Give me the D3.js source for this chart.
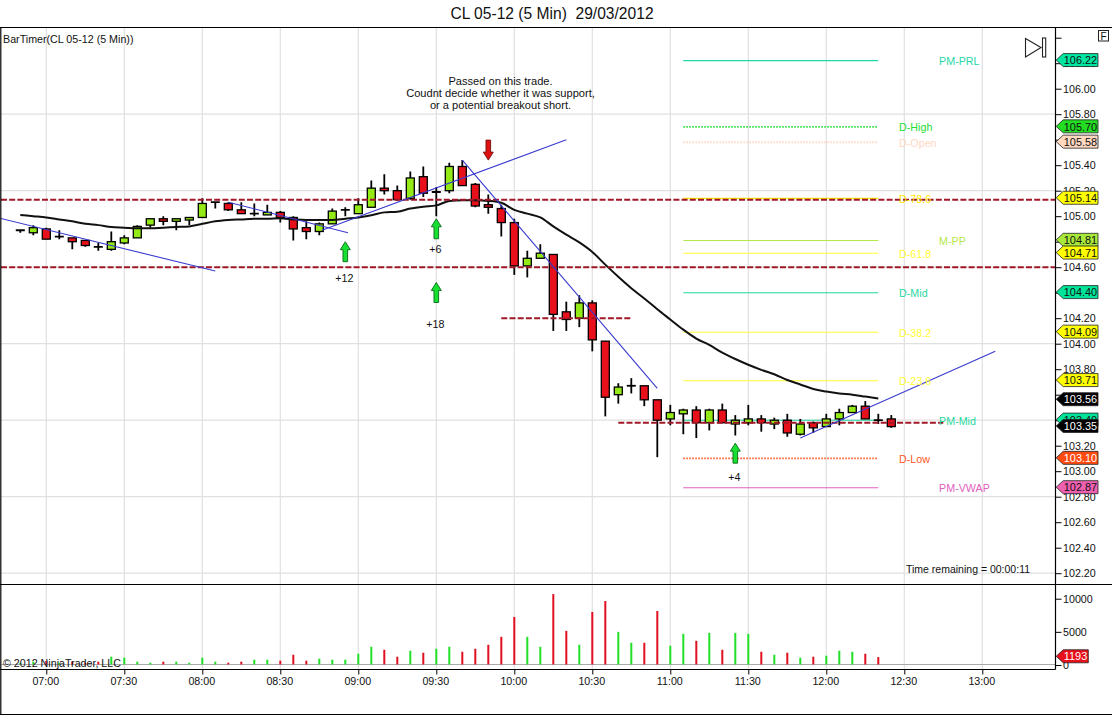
<!DOCTYPE html>
<html>
<head>
<meta charset="utf-8">
<script src="https://cdnjs.cloudflare.com/ajax/libs/d3/7.8.5/d3.min.js"></script>
<style>
html,body{margin:0;padding:0;background:#fff;overflow:hidden}
svg{display:block}
text{font-family:"Liberation Sans",Arial,sans-serif;fill:#111}
</style>
</head>
<body>
<svg id="chart" width="1112" height="715"></svg>
<script>
// ---------- data ----------
const barTimes = ["06:50","06:55","07:00","07:05","07:10","07:15","07:20","07:25","07:30","07:35","07:40","07:45","07:50","07:55",
"08:00","08:05","08:10","08:15","08:20","08:25","08:30","08:35","08:40","08:45","08:50","08:55",
"09:00","09:05","09:10","09:15","09:20","09:25","09:30","09:35","09:40","09:45","09:50","09:55",
"10:00","10:05","10:10","10:15","10:20","10:25","10:30","10:35","10:40","10:45","10:50","10:55",
"11:00","11:05","11:10","11:15","11:20","11:25","11:30","11:35","11:40","11:45","11:50","11:55",
"12:00","12:05","12:10","12:15","12:20","12:25"];
const opens = [104.88,104.87,104.90,104.84,104.83,104.81,104.77,104.74,104.79,104.83,104.93,104.98,104.96,104.97,
104.99,105.10,105.10,105.05,105.01,105.01,105.03,104.99,104.91,104.88,104.94,105.04,
105.02,105.07,105.22,105.20,105.14,105.31,105.18,105.20,105.39,105.25,105.09,105.06,
104.95,104.61,104.67,104.70,104.25,104.20,104.32,104.02,103.60,103.67,103.67,103.56,
103.41,103.45,103.48,103.38,103.48,103.37,103.38,103.41,103.37,103.40,103.29,103.38,
103.35,103.41,103.46,103.51,103.41,103.41];
const highs = [104.89,104.93,104.91,104.89,104.83,104.81,104.79,104.88,104.85,104.93,104.98,105.00,104.98,104.99,
105.14,105.11,105.11,105.11,105.10,105.09,105.04,105.00,104.96,104.95,105.06,105.07,
105.14,105.28,105.33,105.24,105.35,105.39,105.23,105.42,105.44,105.26,105.17,105.09,
104.98,104.73,104.78,104.70,104.33,104.38,104.34,104.02,103.69,103.73,103.67,103.56,
103.52,103.49,103.51,103.49,103.53,103.44,103.52,103.44,103.42,103.45,103.41,103.39,
103.45,103.49,103.52,103.55,103.45,103.44];
const lows = [104.87,104.85,104.82,104.82,104.74,104.76,104.73,104.73,104.78,104.83,104.91,104.93,104.89,104.93,
104.99,105.06,105.04,105.02,105.00,105.01,104.95,104.81,104.82,104.85,104.94,105.00,
105.02,105.07,105.17,105.12,105.13,105.15,105.00,105.18,105.24,105.07,105.02,104.84,
104.54,104.52,104.67,104.10,104.10,104.13,103.94,103.43,103.53,103.61,103.51,103.11,
103.36,103.29,103.26,103.32,103.38,103.28,103.36,103.31,103.33,103.27,103.28,103.30,
103.35,103.36,103.46,103.41,103.37,103.34];
const closes = [104.89,104.91,104.82,104.84,104.80,104.77,104.76,104.80,104.83,104.92,104.98,104.96,104.98,104.99,
105.10,105.11,105.05,105.02,105.02,105.03,104.99,104.90,104.88,104.94,105.04,105.05,
105.09,105.22,105.20,105.13,105.30,105.18,105.19,105.39,105.24,105.08,105.07,104.95,
104.61,104.67,104.71,104.23,104.19,104.32,104.03,103.58,103.66,103.67,103.56,103.40,
103.46,103.48,103.38,103.48,103.38,103.40,103.41,103.38,103.40,103.30,103.37,103.34,
103.41,103.46,103.51,103.41,103.40,103.35];
const volumes = [300,500,600,300,500,300,500,1250,1100,500,350,500,500,350,
1100,500,350,500,800,800,650,1550,650,950,800,800,
1700,2750,2300,1250,2150,1850,2450,2750,2000,2450,3050,4250,
7250,4250,2750,10700,5150,3050,8000,9650,5000,3350,3350,8150,
2900,4700,3650,4850,2300,4850,4700,2000,1550,1850,1100,1250,
1400,2150,2000,1700,1193];
const movingAverage = [105.01,105.00,104.99,104.975,104.96,104.94,104.93,104.915,104.91,104.905,104.905,104.91,104.915,104.92,
104.94,104.96,104.97,104.975,104.98,104.98,104.983,104.975,104.97,104.97,104.97,104.98,
104.99,105.007,105.03,105.035,105.06,105.075,105.085,105.12,105.125,105.125,105.12,105.105,
105.05,105.02,104.99,104.92,104.855,104.795,104.72,104.62,104.525,104.435,104.355,104.27,
104.19,104.11,104.04,103.99,103.93,103.88,103.835,103.795,103.76,103.715,103.68,103.645,
103.625,103.61,103.60,103.585,103.57];

const levelNames  = ["PM-PRL","D-High","D-Open","D-78.6","M-PP","D-61.8","D-Mid","D-38.2","D-23.6","PM-Mid","D-Low","PM-VWAP"];
const levelValues = [106.22,105.70,105.58,105.14,104.81,104.71,104.40,104.09,103.71,103.40,103.10,102.87];
const levelColors = ["#1fd8a8","#22dd33","#ffd8c4","#ffe600","#b4e84a","#ffff33","#1fd8a0","#ffff33","#ffff33","#1fd8a0","#ff5522","#e060c0"];
const levelDotted = ["D-High","D-Open","D-Low"];
const levelLabelTimes = ["12:43","12:28","12:28","12:28","12:43","12:28","12:28","12:28","12:28","12:43","12:28","12:43"];
const levelStart = "11:05", levelEnd = "12:20";

const tagValues = ["106.22","105.70","105.58","105.14","104.81","104.71","104.40","104.09","103.71","103.56","103.40","103.35","103.10","102.87"];
const tagFills  = ["#00e5a0","#22dd22","#ffd8c0","#ffff00","#a8e83a","#ffff00","#00e39a","#ffff00","#ffff00","#000000","#00e39a","#000000","#ff4a12","#f060b0"];
const tagInks   = ["#111","#111","#111","#111","#111","#111","#111","#111","#111","#fff","#111","#fff","#fff","#111"];

const fullDashPrices = [105.13,104.60];
const segDashes = [["09:55","10:45",104.20],["10:40","12:45",103.38]];
const trendLines = [["06:42",104.985,"08:05",104.57],["08:10",105.11,"08:56",104.87],["08:46",104.89,"10:20",105.60],["09:40",105.44,"10:55",103.65],["11:50",103.26,"13:05",103.94]];

const arrowTimes  = ["08:55","09:30","09:30","11:25","09:50"];
const arrowPrices = [104.80,104.98,104.48,103.22,105.44];
const arrowDirs   = ["up","up","up","up","down"];
const arrowNotes  = ["+12","+6","+18","+4",""];

const priceTicks = [106.4,106.2,106,105.8,105.6,105.4,105.2,105,104.8,104.6,104.4,104.2,104,103.8,103.6,103.4,103.2,103,102.8,102.6,102.4,102.2];
const unlabelledPriceTicks = [106.4,105.6,104.8,103.6,103.4];
const priceGrid  = [105.8,105.2,104.6,104,103.4,102.8,102.2];
const volumeTicks = [10000,5000,0];
const timeLabels = ["07:00","07:30","08:00","08:30","09:00","09:30","10:00","10:30","11:00","11:30","12:00","12:30","13:00"];
const noteLines = ["Passed on this trade.","Coudnt decide whether it was support,","or a potential breakout short."];
const chartTitle = "CL 05-12 (5 Min)  29/03/2012";
const lastVolume = 1193;

// ---------- scales ----------
const parseT = d3.timeParse("%H:%M");
const x = d3.scaleTime().domain([parseT("07:00"),parseT("13:00")]).range([46.3,982.3]);
const y = d3.scaleLinear().domain([106,102.2]).range([88.7,573.2]);
const v = d3.scaleLinear().domain([0,10000]).range([665,598.7]);
const axisX = 1055.5, panelTop = 27.5, split = 584.5, xAxisY = 669.5, panelBottom = 714.5;
const fx = s => x(parseT(s));

const svg = d3.select("#chart");
const defs = svg.append("defs");
defs.append("clipPath").attr("id","plot").append("rect").attr("x",1).attr("y",panelTop).attr("width",axisX-1).attr("height",split-panelTop);

// ---------- grid ----------
const gridG = svg.append("g").attr("stroke","#e0e0e0").attr("stroke-width",1.2);
gridG.selectAll("line.h").data(priceGrid).join("line").attr("class","h")
  .attr("x1",1).attr("x2",axisX).attr("y1",d=>y(d)).attr("y2",d=>y(d));
gridG.selectAll("line.v").data(timeLabels).join("line").attr("class","v")
  .attr("x1",d=>fx(d)).attr("x2",d=>fx(d)).attr("y1",panelTop).attr("y2",xAxisY);
svg.append("line").attr("x1",1).attr("x2",axisX).attr("y1",664.5).attr("y2",664.5).attr("stroke","#aaaaaa").attr("stroke-width",1.2);

// ---------- level lines ----------
const plot = svg.append("g").attr("clip-path","url(#plot)");
plot.selectAll("line.level").data(levelNames).join("line").attr("class","level")
  .attr("x1",fx(levelStart)).attr("x2",fx(levelEnd))
  .attr("y1",(d,i)=>y(levelValues[i])).attr("y2",(d,i)=>y(levelValues[i]))
  .attr("stroke",(d,i)=>levelColors[i])
  .attr("stroke-width",d=>levelDotted.includes(d)?1.8:1.1)
  .attr("stroke-dasharray",d=>levelDotted.includes(d)?"1.5 1.5":null);
svg.selectAll("text.level").data(levelNames).join("text").attr("class","level")
  .attr("x",(d,i)=>fx(levelLabelTimes[i])+(levelLabelTimes[i]==="12:43"?1:0)).attr("y",(d,i)=>y(levelValues[i])+4.5)
  .style("fill",(d,i)=>levelColors[i]).style("font-size","10.7px").text(d=>d);

// ---------- candles ----------
const idx = d3.range(opens.length);
const bw = 8;
const candles = plot.append("g");
candles.selectAll("line.wick").data(idx).join("line").attr("class","wick")
  .attr("x1",i=>fx(barTimes[i])).attr("x2",i=>fx(barTimes[i]))
  .attr("y1",i=>y(highs[i])).attr("y2",i=>y(lows[i]))
  .attr("stroke","#000").attr("stroke-width",1.8);
const isDoji = i => Math.abs(opens[i]-closes[i])<=0.011;
candles.selectAll("line.doji").data(idx.filter(isDoji)).join("line").attr("class","doji")
  .attr("x1",i=>fx(barTimes[i])-bw/2-.5).attr("x2",i=>fx(barTimes[i])+bw/2+.5)
  .attr("y1",i=>y(closes[i])).attr("y2",i=>y(closes[i]))
  .attr("stroke","#000").attr("stroke-width",1.8);
candles.selectAll("rect").data(idx.filter(i=>!isDoji(i))).join("rect")
  .attr("x",i=>fx(barTimes[i])-bw/2).attr("width",bw)
  .attr("y",i=>y(Math.max(opens[i],closes[i])))
  .attr("height",i=>Math.abs(y(opens[i])-y(closes[i])))
  .attr("fill",i=>closes[i]>opens[i]?"#93ea16":"#e8101a")
  .attr("stroke","#000").attr("stroke-width",1.3);

// ---------- moving average ----------
plot.append("path").datum(movingAverage)
  .attr("d",d3.line().x((d,i)=>fx(barTimes[i])).y(d=>y(d)).curve(d3.curveMonotoneX))
  .attr("fill","none").attr("stroke","#111").attr("stroke-width",2);

// ---------- dashed support / resistance ----------
const dash = {stroke:"#a01828",w:2,da:"6 2.2"};
plot.selectAll("line.full").data(fullDashPrices).join("line").attr("class","full")
  .attr("x1",1).attr("x2",axisX).attr("y1",d=>y(d)).attr("y2",d=>y(d))
  .attr("stroke",dash.stroke).attr("stroke-width",dash.w).attr("stroke-dasharray",dash.da);
plot.selectAll("line.seg").data(segDashes).join("line").attr("class","seg")
  .attr("x1",d=>fx(d[0])).attr("x2",d=>fx(d[1])).attr("y1",d=>y(d[2])).attr("y2",d=>y(d[2]))
  .attr("stroke",dash.stroke).attr("stroke-width",dash.w).attr("stroke-dasharray",dash.da);

// ---------- trend lines ----------
plot.selectAll("line.trend").data(trendLines).join("line").attr("class","trend")
  .attr("x1",d=>fx(d[0])).attr("y1",d=>y(d[1])).attr("x2",d=>fx(d[2])).attr("y2",d=>y(d[3]))
  .attr("stroke","#3a3ad0").attr("stroke-width",1.1);

// ---------- arrows ----------
const arrowShape = dir => {
  const s = dir==="up"?1:-1;
  return `M0,0 L${5},${s*8} L${2.3},${s*8} L${2.3},${s*20} L${-2.3},${s*20} L${-2.3},${s*8} L${-5},${s*8} Z`;
};
const arrows = svg.selectAll("g.arrow").data(arrowTimes).join("g").attr("class","arrow")
  .attr("transform",(d,i)=>`translate(${fx(d)},${y(arrowPrices[i])})`);
arrows.append("path").attr("d",(d,i)=>arrowShape(arrowDirs[i]))
  .attr("fill",(d,i)=>arrowDirs[i]==="up"?"#18e030":"#e01010")
  .attr("stroke",(d,i)=>arrowDirs[i]==="up"?"#0a6a18":"#701010").attr("stroke-width",.9);
arrows.append("text").attr("text-anchor","middle").attr("y",(d,i)=>i===0?40:i===1?34.5:i===2?45:i===3?38:0)
  .attr("x",-1).style("font-size","10.7px").text((d,i)=>arrowNotes[i]);

// ---------- volume ----------
svg.append("g").selectAll("line").data(volumes).join("line")
  .attr("x1",(d,i)=>fx(barTimes[i])).attr("x2",(d,i)=>fx(barTimes[i]))
  .attr("y1",d=>v(d)).attr("y2",664.5)
  .attr("stroke",(d,i)=>closes[i]>=opens[i]?"#20e028":"#e01020").attr("stroke-width",2);

// ---------- frame ----------
const frame = svg.append("g").attr("stroke","#000").attr("stroke-width",1.2);
[[0,panelTop,1112,panelTop],[0,split,1112,split],[0,xAxisY,axisX,xAxisY],[0,panelBottom,1112,panelBottom],[.8,panelTop,.8,panelBottom],[axisX,panelTop,axisX,xAxisY]]
  .forEach(a=>frame.append("line").attr("x1",a[0]).attr("y1",a[1]).attr("x2",a[2]).attr("y2",a[3]));

// ---------- axes ----------
const styleAxis = g => {
  g.select(".domain").remove();
  g.selectAll("line").attr("stroke","#000");
  g.selectAll("text").style("font-size","10.7px").style("font-family",'"Liberation Sans",Arial,sans-serif').style("fill","#111");
};
svg.append("g").attr("transform",`translate(${axisX},0)`)
  .call(d3.axisRight(y).tickValues(priceTicks).tickSize(6).tickPadding(1.5).tickFormat(d=>unlabelledPriceTicks.includes(d)?"":d3.format(".2f")(d)))
  .call(styleAxis);
svg.append("g").attr("transform",`translate(${axisX},0)`)
  .call(d3.axisRight(v).tickValues(volumeTicks).tickSize(6).tickPadding(1.5).tickFormat(d3.format("d")))
  .call(styleAxis);
svg.append("g").attr("transform",`translate(0,${xAxisY})`)
  .call(d3.axisBottom(x).tickValues(timeLabels.map(parseT)).tickSize(5).tickPadding(3).tickFormat(d3.timeFormat("%H:%M")))
  .call(styleAxis)
  .call(g=>g.selectAll("text").attr("dx",-1));

// ---------- price tags ----------
const tag = (g,yy,fill,ink,label) => {
  const h = 13, l = axisX+.7, r = label.length>4 ? 1098 : 1088.3;
  g.append("path").attr("d",`M${l},${yy} L${l+7},${yy-h/2} L${r},${yy-h/2} L${r},${yy+h/2} L${l+7},${yy+h/2} Z`)
    .attr("fill",fill).attr("stroke","#222").attr("stroke-width",.8);
  g.append("text").attr("x",1063.8).attr("y",yy+4.2).style("font-size","10.9px").style("fill",ink).text(label);
};
const tags = svg.append("g");
tagValues.forEach((t,i)=>tag(tags,y(+t)-.6,tagFills[i],tagInks[i],t));
tag(tags,v(lastVolume)-.8,"#e8101a","#fff",String(lastVolume));

// ---------- text ----------
svg.append("text").attr("x",552).attr("y",19).attr("text-anchor","middle").style("font-size","15.6px").style("white-space","pre").text(chartTitle);
svg.append("text").attr("x",3).attr("y",43).style("font-size","10.7px").text("BarTimer(CL 05-12 (5 Min))");
svg.append("text").attr("x",906).attr("y",573).style("font-size","10.5px").text("Time remaining = 00:00:11");
svg.append("text").attr("x",3).attr("y",667).style("font-size","10.7px").text("© 2012 NinjaTrader, LLC");
svg.selectAll("text.note").data(noteLines).join("text").attr("class","note")
  .attr("x",500.5).attr("y",(d,i)=>85+i*12.2).attr("text-anchor","middle").style("font-size","11.1px").text(d=>d);

// ---------- toolbar glyphs ----------
svg.append("path").attr("d","M1025.5,38.5 L1041,47.5 L1025.5,57 Z").attr("fill","#fff").attr("stroke","#222").attr("stroke-width",1.1);
svg.append("rect").attr("x",1042.5).attr("y",38).attr("width",3.2).attr("height",19).attr("fill","#fff").attr("stroke","#222").attr("stroke-width",1.1);
svg.append("rect").attr("x",1098.5).attr("y",30.5).attr("width",10).attr("height",10.5).attr("fill","#fff").attr("stroke","#222").attr("stroke-width",1);
svg.append("text").attr("x",1103.5).attr("y",39.5).attr("text-anchor","middle").style("font-size","10px").text("F");
</script>
</body>
</html>
